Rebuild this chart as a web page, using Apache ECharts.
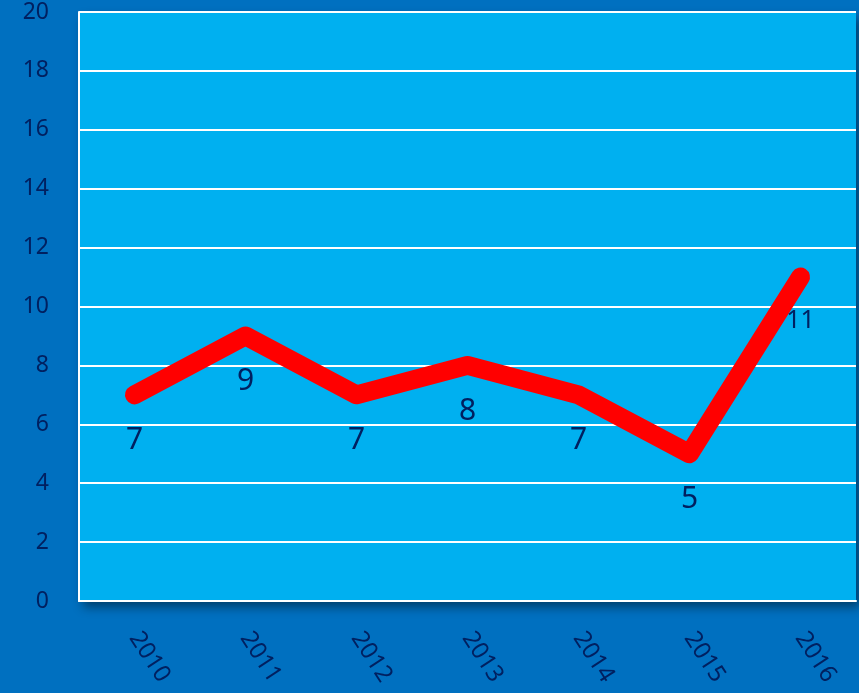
<!DOCTYPE html>
<html><head><meta charset="utf-8">
<script src="https://cdn.jsdelivr.net/npm/echarts@6/dist/echarts.min.js"></script>
<style>html,body{margin:0;padding:0;background:#0070C0;}#c{width:859px;height:693px;}</style>
</head><body><div id="c"></div>
<script>
const years = ['2010','2011','2012','2013','2014','2015','2016'];
const values = [7, 9, 7, 8, 7, 5, 11];
const yMin = 0, yMax = 20, yStep = 2;

const seriesData = values.map(function (v) {
  return v >= 10 ? { value: v, label: { fontSize: 25, distance: 30 } } : v;
});

const chart = echarts.init(document.getElementById('c'));
chart.setOption({
  backgroundColor: '#0070C0',
  textStyle: { fontFamily: 'Noto Sans' },
  grid: {
    left: 79, right: 3, top: 12, bottom: 92,
    show: true, backgroundColor: '#00B0F0', borderWidth: 0,
    shadowBlur: 10, shadowOffsetX: 4, shadowOffsetY: 6, shadowColor: 'rgba(0,0,0,0.45)'
  },
  xAxis: {
    type: 'category', data: years, boundaryGap: true,
    axisLine: { show: true, lineStyle: { color: '#ffffff', width: 2 } },
    axisTick: { show: false },
    axisLabel: { rotate: -57, color: '#002060', fontSize: 24, margin: 33 }
  },
  yAxis: {
    type: 'value', min: yMin, max: yMax, interval: yStep,
    axisLine: { show: true, lineStyle: { color: '#ffffff', width: 2 } },
    axisTick: { show: false },
    splitLine: { lineStyle: { color: '#ffffff', width: 2 } },
    axisLabel: { color: '#002060', fontSize: 23, margin: 30 }
  },
  series: [{
    type: 'line', data: seriesData, symbol: 'circle', symbolSize: 2, showSymbol: true,
    itemStyle: { color: '#FF0000' },
    lineStyle: { color: '#FF0000', width: 19, cap: 'round', join: 'round' },
    label: { show: true, position: 'bottom', distance: 30, color: '#002060', fontSize: 30 },
    z: 3
  }]
});
</script></body></html>
